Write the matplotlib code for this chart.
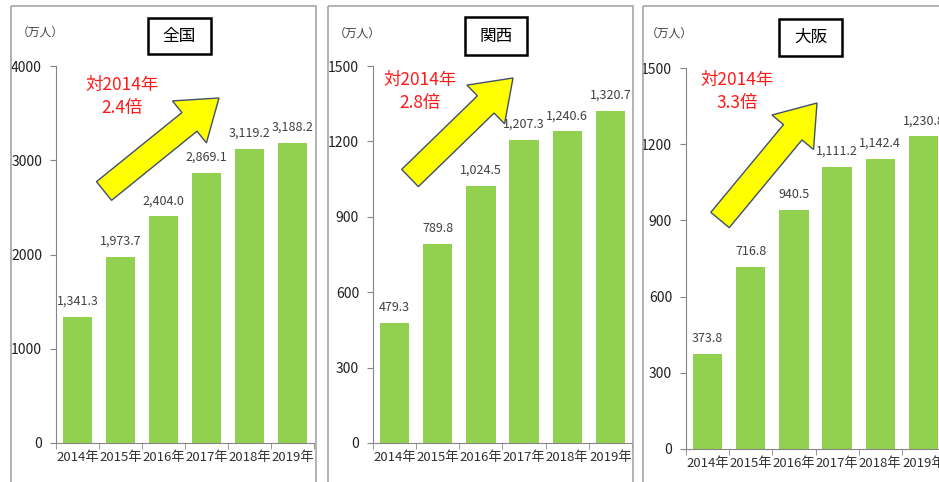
import matplotlib
matplotlib.use("Agg")
import matplotlib.pyplot as plt
import numpy as np
from matplotlib.patches import FancyArrow, Rectangle

plt.rcParams["font.family"] = ["Noto Sans CJK JP", "DejaVu Sans"]

years = ["2014年", "2015年", "2016年", "2017年", "2018年", "2019年"]
zenkoku = [1341.3, 1973.7, 2404.0, 2869.1, 3119.2, 3188.2]
kansai = [479.3, 789.8, 1024.5, 1207.3, 1240.6, 1320.7]
osaka = [373.8, 716.8, 940.5, 1111.2, 1142.4, 1230.8]
titles = ["全国", "関西", "大阪"]
ratios = ["2.4倍", "2.8倍", "3.3倍"]

W, H = 939, 482
BAR = "#92D050"
AXC = "#868686"

fig = plt.figure(figsize=(W / 100, H / 100), dpi=100)


def px_axes(left, top, right, bottom):
    return fig.add_axes([left / W, 1 - bottom / H, (right - left) / W, (bottom - top) / H])


# (axes box in px, ymax, tick step)
panels = [
    (zenkoku, (56, 66, 314, 443), 4000, 1000),
    (kansai, (373, 66, 632, 443), 1500, 300),
    (osaka, (686, 68, 945, 449), 1500, 300),
]

for values, box, ymax, step in panels:
    ax = px_axes(*box)
    x = np.arange(len(years))
    ax.bar(x, values, width=0.68, color=BAR, zorder=2)
    for xi, v in zip(x, values):
        ax.annotate(f"{v:,.1f}", (xi, v), xytext=(0, 6.5), textcoords="offset points",
                    ha="center", va="bottom", fontsize=9, color="#404040",
                    annotation_clip=False)
    ax.set_xlim(-0.5, len(years) - 0.5)
    ax.set_ylim(0, ymax)
    ax.set_yticks(np.arange(0, ymax + 1, step))
    ax.set_xticks(x)
    ax.set_xticklabels(years, fontsize=9.5, color="#303030")
    ax.set_xticks(np.arange(-0.5, len(years), 1), minor=True)
    ax.tick_params(axis="x", which="major", length=0, pad=6)
    ax.tick_params(axis="x", which="minor", length=4, color=AXC, direction="out")
    ax.tick_params(axis="y", length=4, color=AXC, labelsize=10, labelcolor="#202020", pad=6)
    ax.spines[["top", "right"]].set_visible(False)
    ax.spines[["left", "bottom"]].set_color(AXC)
    ax.patch.set_alpha(0)

# overlay in pixel coordinates for frames, titles and arrows
ov = fig.add_axes([0, 0, 1, 1])
ov.set_xlim(0, W)
ov.set_ylim(H, 0)
ov.axis("off")
ov.patch.set_alpha(0)

frames = [(11, 316), (328, 633), (643, 960)]
for l, r in frames:
    ov.add_patch(Rectangle((l, 6), r - l, H, fill=False, ec="#a6a6a6", lw=1.2))

title_boxes = [(148, 18, 211, 54), (465, 17, 527, 55), (779, 19, 842, 56)]
for t, (l, tp, r, b) in zip(titles, title_boxes):
    ov.add_patch(Rectangle((l, tp), r - l, b - tp, fill=False, ec="black", lw=1.8))
    ov.text((l + r) / 2, (tp + b) / 2, t, ha="center", va="center", fontsize=12, color="black")

unit_pos = [(40, 32), (357, 33), (669, 33)]
for ux, uy in unit_pos:
    ov.text(ux, uy, "（万人）", ha="center", va="center", fontsize=8.5, color="#404040")

note_pos = [(122, 85, 108), (420, 80, 103), (737, 80, 103)]
for r, (nx, y1, y2) in zip(ratios, note_pos):
    ov.text(nx, y1, "対2014年", ha="center", va="center", fontsize=12.5, color="#ff1a1a")
    ov.text(nx, y2, r, ha="center", va="center", fontsize=12.5, color="#ff1a1a")

arrows = [((104, 191), (219, 98)), ((410, 178), (513, 78)), ((720, 220), (817, 103))]
for (x0, y0), (x1, y1) in arrows:
    ov.add_patch(FancyArrow(x0, y0, x1 - x0, y1 - y0, width=24, head_width=54,
                            head_length=38, length_includes_head=True,
                            fc="#ffff00", ec="#3f4f6f", lw=1.0))

fig.savefig("out.png", dpi=100)
